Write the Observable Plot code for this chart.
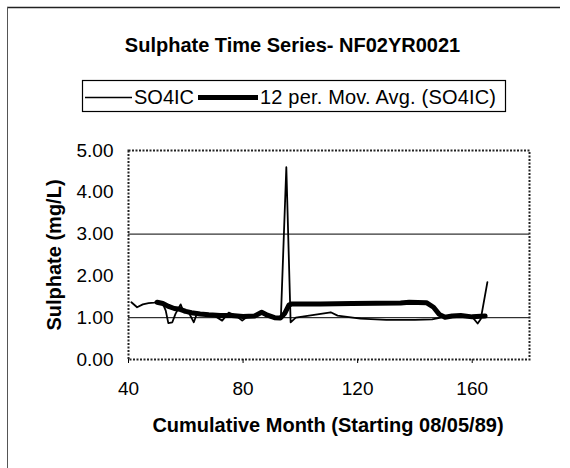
<!DOCTYPE html>
<html><head><meta charset="utf-8">
<script src="https://cdn.jsdelivr.net/npm/d3@7"></script>
<script src="https://cdn.jsdelivr.net/npm/@observablehq/plot@0.6"></script>
<style>
body{margin:0;background:#fff;}
#wrap{position:relative;width:570px;height:468px;overflow:hidden;background:#fff;font-family:"Liberation Sans",Arial,sans-serif;}
#wrap > svg{position:absolute;left:0;top:0;}
</style></head><body><div id="wrap"></div>
<script>
// ---- data ----
const rawMonth = [41, 43, 45, 47, 49, 50.6, 52, 53, 53.9, 55.3, 56.4, 58.2, 59.3, 61, 62.8, 64, 66.9, 69.2, 72.7, 75, 77.4, 79.7, 82, 84.5, 86.7, 89, 91.4, 93.2, 95.1, 96.6, 98.4, 104.8, 110.6, 113, 121, 130, 140, 146, 149, 151.9, 156, 160, 161.9, 163, 165.3];
const rawValue = [1.37, 1.25, 1.32, 1.35, 1.36, 1.39, 1.33, 1.17, 0.87, 0.89, 1.09, 1.32, 1.13, 1.13, 0.89, 1.12, 1.09, 1.08, 0.93, 1.12, 1.05, 0.93, 1.05, 1.06, 1.13, 1.02, 0.97, 1.0, 4.6, 0.89, 1.0, 1.07, 1.13, 1.05, 0.98, 0.95, 0.95, 0.96, 1.0, 1.05, 1.03, 1.02, 0.86, 0.97, 1.85];
const avgMonth = [50, 52, 54, 56, 58, 60, 62, 65, 68, 72, 76, 80, 84, 86.5, 88.5, 91, 93, 94.5, 96, 97, 107, 118, 135, 138, 144, 146.5, 148.5, 150.5, 153, 156, 160, 164.5];
const avgValue = [1.37, 1.34, 1.27, 1.22, 1.2, 1.15, 1.12, 1.09, 1.07, 1.05, 1.05, 1.03, 1.04, 1.13, 1.06, 1.0, 0.99, 1.1, 1.3, 1.33, 1.33, 1.34, 1.35, 1.37, 1.36, 1.25, 1.08, 1.01, 1.04, 1.05, 1.02, 1.04];
const xTicks = [40, 80, 120, 160];
const yTicks = [0, 1, 2, 3, 4, 5];
const gridValues = [1, 3];
const titleText = "Sulphate Time Series- NF02YR0021";
const seriesNames = ["SO4IC", "12 per. Mov. Avg. (SO4IC)"];
const xTitle = "Cumulative Month (Starting 08/05/89)";
const yTitle = "Sulphate (mg/L)";

const raw = rawMonth.map((m, i) => ({month: m, value: rawValue[i]}));
const avg = avgMonth.map((m, i) => ({month: m, value: avgValue[i]}));

const chart = Plot.plot({
  width: 570, height: 468,
  marginLeft: 128, marginRight: 41, marginTop: 150, marginBottom: 109,
  style: {fontFamily: "'Liberation Sans', Arial, sans-serif", fontSize: "19px", color: "#000", background: "transparent"},
  x: {domain: [40, 180]},
  y: {domain: [0, 5]},
  marks: [
    Plot.ruleY(gridValues, {stroke: "#000", strokeWidth: 1}),
    Plot.frame({stroke: "#222", strokeWidth: 2, strokeDasharray: "2,1.5"}),
    Plot.axisX(xTicks, {tickSize: 4, tickPadding: 18, label: null, fontSize: 19}),
    Plot.axisY(yTicks, {tickSize: 0, tickPadding: 15, tickFormat: d3.format(".2f"), label: null, fontSize: 19}),
    Plot.line(raw, {x: "month", y: "value", stroke: "#000", strokeWidth: 1.8, strokeLinejoin: "round"}),
    Plot.line(avg, {x: "month", y: "value", stroke: "#000", strokeWidth: 5, strokeLinejoin: "round", strokeLinecap: "round"})
  ]
});
const wrap = document.getElementById("wrap");
wrap.appendChild(chart);

// ---- overlay: border, title, legend, axis titles ----
const ov = d3.create("svg").attr("width", 570).attr("height", 468)
  .style("font-family", "'Liberation Sans', Arial, sans-serif").style("pointer-events", "none");
ov.append("line").attr("x1", 7).attr("y1", 7.5).attr("x2", 560).attr("y2", 7.5).attr("stroke", "#222").attr("stroke-width", 1.5);
ov.append("line").attr("x1", 7.5).attr("y1", 7).attr("x2", 7.5).attr("y2", 468).attr("stroke", "#555").attr("stroke-width", 1);
ov.append("text").attr("x", 292.5).attr("y", 52).attr("text-anchor", "middle")
  .attr("font-weight", "bold").attr("font-size", 20).text(titleText);
// legend
ov.append("rect").attr("x", 82.5).attr("y", 80.5).attr("width", 423).attr("height", 31)
  .attr("fill", "none").attr("stroke", "#000").attr("stroke-width", 1.2);
ov.append("line").attr("x1", 85).attr("x2", 132).attr("y1", 97.5).attr("y2", 97.5).attr("stroke", "#000").attr("stroke-width", 1.5);
ov.append("text").attr("x", 134).attr("y", 104).attr("font-size", 20).text(seriesNames[0]);
ov.append("line").attr("x1", 198).attr("x2", 258).attr("y1", 97.5).attr("y2", 97.5).attr("stroke", "#000").attr("stroke-width", 5);
ov.append("text").attr("x", 260).attr("y", 104).attr("font-size", 20).attr("textLength", 236).text(seriesNames[1]);
// axis titles
ov.append("text").attr("x", 328).attr("y", 432).attr("text-anchor", "middle")
  .attr("font-weight", "bold").attr("font-size", 20).text(xTitle);
ov.append("text").attr("transform", "translate(61,255) rotate(-90)").attr("text-anchor", "middle")
  .attr("font-weight", "bold").attr("font-size", 20).text(yTitle);
wrap.appendChild(ov.node());
</script></body></html>
